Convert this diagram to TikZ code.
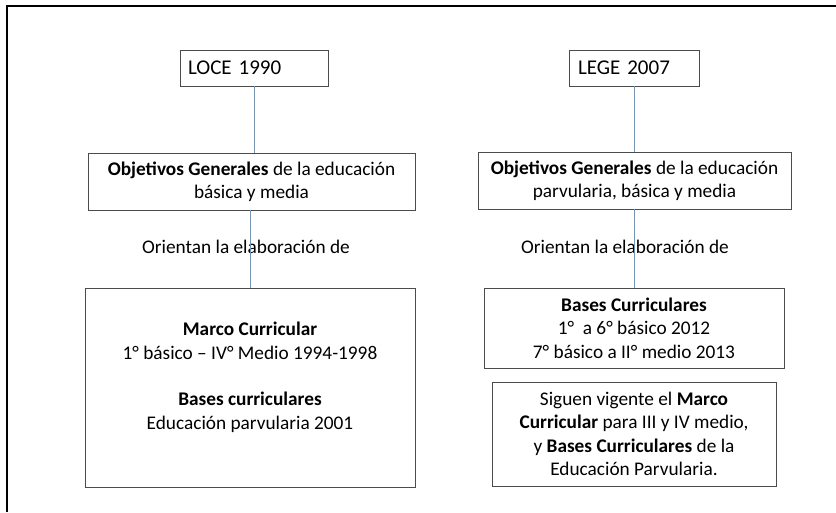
\documentclass[tikz,border=0pt]{standalone}
\usepackage{fontspec}
\setmainfont{Carlito}
\usetikzlibrary{calc}

\begin{document}
\begin{tikzpicture}[x=1pt, y=-1pt,
        law box/.style={draw=black!70, line width=0.7pt, inner xsep=8pt, inner ysep=0pt,
            minimum height=36pt, align=left, font=\fontsize{21}{24}\selectfont},
        doc box/.style={draw=black!70, line width=0.7pt, inner sep=0pt, align=center,
            font=\fontsize{19.3}{23.4}\selectfont},
        note label/.style={inner sep=0pt, font=\fontsize{19.3}{23.4}\selectfont},
        link/.style={draw={rgb,255:red,91;green,155;blue,213}, line width=0.7pt},
        frame line/.style={draw=black, line width=2pt}
    ]
    \useasboundingbox (0,0) rectangle (836,512);
    \draw[frame line] (7,512) -- (7,6) -- (836,6);

    % left column: LOCE
    \node[law box, text width=132pt] (loce) at (254,68) {LOCE 1990};
    \node[doc box, minimum width=327pt, minimum height=57pt] (objL) at (251.5,181.5)
        {\textbf{Objetivos Generales} de la educación\\básica y media};
    \node[note label] (orientL) at (246,247) {Orientan la elaboración de};
    \node[doc box, minimum width=330pt, minimum height=199pt] (marco) at (250,387.5)
        {\textbf{Marco Curricular}\\1° básico – IV° Medio 1994-1998\\[23.4pt]
         \textbf{Bases curriculares}\\Educación parvularia 2001\\ \mbox{}};

    % right column: LEGE
    \node[law box, text width=112pt, inner xsep=9pt] (lege) at (634,68) {LEGE 2007};
    \node[doc box, minimum width=313pt, minimum height=57pt] (objR) at (634.5,180.5)
        {\textbf{Objetivos Generales} de la educación\\parvularia, básica y media};
    \node[note label] (orientR) at (625,247) {Orientan la elaboración de};
    \node[doc box, minimum width=300pt, minimum height=80pt] (bases) at (634,328)
        {\textbf{Bases Curriculares}\\1°\ \ a 6° básico 2012\\7° básico a II° medio 2013};
    \node[doc box, minimum width=284pt, minimum height=104pt] (siguen) at (634,434)
        {Siguen vigente el \textbf{Marco}\\\textbf{Curricular} para III y IV medio,\\
         y \textbf{Bases Curriculares} de la\\Educación Parvularia.};

    % connectors
    \draw[link] (loce.south) -- (loce.south |- objL.north);
    \draw[link] (objL.south -| marco.north) -- (marco.north);
    \draw[link] (lege.south) -- (lege.south |- objR.north);
    \draw[link] (objR.south -| bases.north) -- (bases.north);
\end{tikzpicture}
\end{document}
